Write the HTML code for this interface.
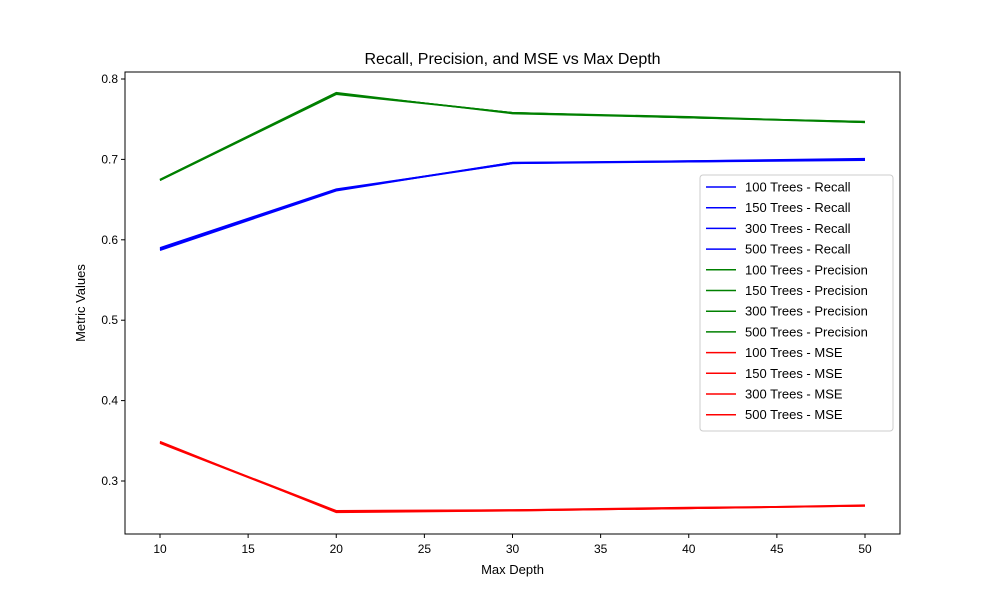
<!DOCTYPE html>
<html><head><meta charset="utf-8"><style>
body{margin:0;background:#fff;}
text{font-family:"Liberation Sans","DejaVu Sans",sans-serif;fill:#000;}
</style></head><body>
<svg id="chart" width="1000" height="600" xmlns="http://www.w3.org/2000/svg"></svg>
<script>
const depths = [10, 20, 30, 40, 50];
const recall100 = [0.588, 0.662, 0.696, 0.698, 0.700];
const recall150 = [0.590, 0.663, 0.695, 0.697, 0.699];
const recall300 = [0.587, 0.661, 0.696, 0.697, 0.700];
const recall500 = [0.589, 0.662, 0.695, 0.698, 0.701];
const prec100 = [0.675, 0.782, 0.758, 0.752, 0.747];
const prec150 = [0.674, 0.781, 0.758, 0.753, 0.746];
const prec300 = [0.675, 0.783, 0.757, 0.752, 0.747];
const prec500 = [0.674, 0.782, 0.758, 0.752, 0.746];
const mse100 = [0.348, 0.262, 0.264, 0.266, 0.269];
const mse150 = [0.349, 0.261, 0.263, 0.266, 0.270];
const mse300 = [0.348, 0.263, 0.264, 0.267, 0.269];
const mse500 = [0.347, 0.262, 0.263, 0.266, 0.269];
const xTicks = [10, 15, 20, 25, 30, 35, 40, 45, 50];
const yTicks = [0.3, 0.4, 0.5, 0.6, 0.7, 0.8];
const seriesNames = ["100 Trees - Recall","150 Trees - Recall","300 Trees - Recall","500 Trees - Recall",
"100 Trees - Precision","150 Trees - Precision","300 Trees - Precision","500 Trees - Precision",
"100 Trees - MSE","150 Trees - MSE","300 Trees - MSE","500 Trees - MSE"];

const series = [recall100,recall150,recall300,recall500,prec100,prec150,prec300,prec500,mse100,mse150,mse300,mse500];
const colors = ["blue","blue","blue","blue","green","green","green","green","red","red","red","red"];
const NS="http://www.w3.org/2000/svg";
const svg=document.getElementById('chart');
const L=125,R=900,T=72,B=534;
const xs=v=>160+(v-10)*(865-160)/40;
const ys=v=>481-(v-0.3)*(481-79)/0.5;
function mk(tag,attrs,parent){const e=document.createElementNS(NS,tag);for(const k in attrs)e.setAttribute(k,attrs[k]);(parent||svg).appendChild(e);return e;}

const title=mk('text',{x:512.5,y:64,'text-anchor':'middle','font-size':16});
title.textContent="Recall, Precision, and MSE vs Max Depth";



series.forEach((s,i)=>{
  const p=mk('polyline',{points:s.map((v,j)=>xs(depths[j])+','+ys(v)).join(' '),fill:'none',stroke:colors[i],'stroke-width':1.5});
  
  
});

const frame=mk('rect',{x:L,y:T,width:R-L,height:B-T,fill:'none',stroke:'#000','stroke-width':1});



xTicks.forEach(t=>{
  const x=xs(t);
  const tk=mk('line',{x1:x,x2:x,y1:B,y2:B+4,stroke:'#000'});
  
  
  const lb=mk('text',{x:x,y:B+19,'text-anchor':'middle','font-size':12});
  lb.textContent=t;
  
  
});
yTicks.forEach(t=>{
  const y=ys(t);
  const tk=mk('line',{x1:L-4,x2:L,y1:y,y2:y,stroke:'#000'});
  
  
  const lb=mk('text',{x:L-7,y:y+4,'text-anchor':'end','font-size':12});
  lb.textContent=t.toFixed(1);
  
  
});
const xt=mk('text',{x:512.5,y:574,'text-anchor':'middle','font-size':13});
xt.textContent="Max Depth";


const yt=mk('text',{x:85,y:303,'text-anchor':'middle','font-size':13,transform:'rotate(-90 85 303)'});
yt.textContent="Metric Values";



const lg=mk('g',{});


mk('rect',{x:700,y:175,width:193,height:256,rx:3,fill:'#fff','fill-opacity':0.8,stroke:'#ccc'},lg);
seriesNames.forEach((n,i)=>{
  const y=187+i*20.7;
  const e=mk('g',{},lg);
  
  
  mk('line',{x1:706,x2:736,y1:y,y2:y,stroke:colors[i],'stroke-width':1.5},e);
  const t=mk('text',{x:745,y:y+4.5,'font-size':13},e);
  t.textContent=n;
});
</script>
</body></html>
